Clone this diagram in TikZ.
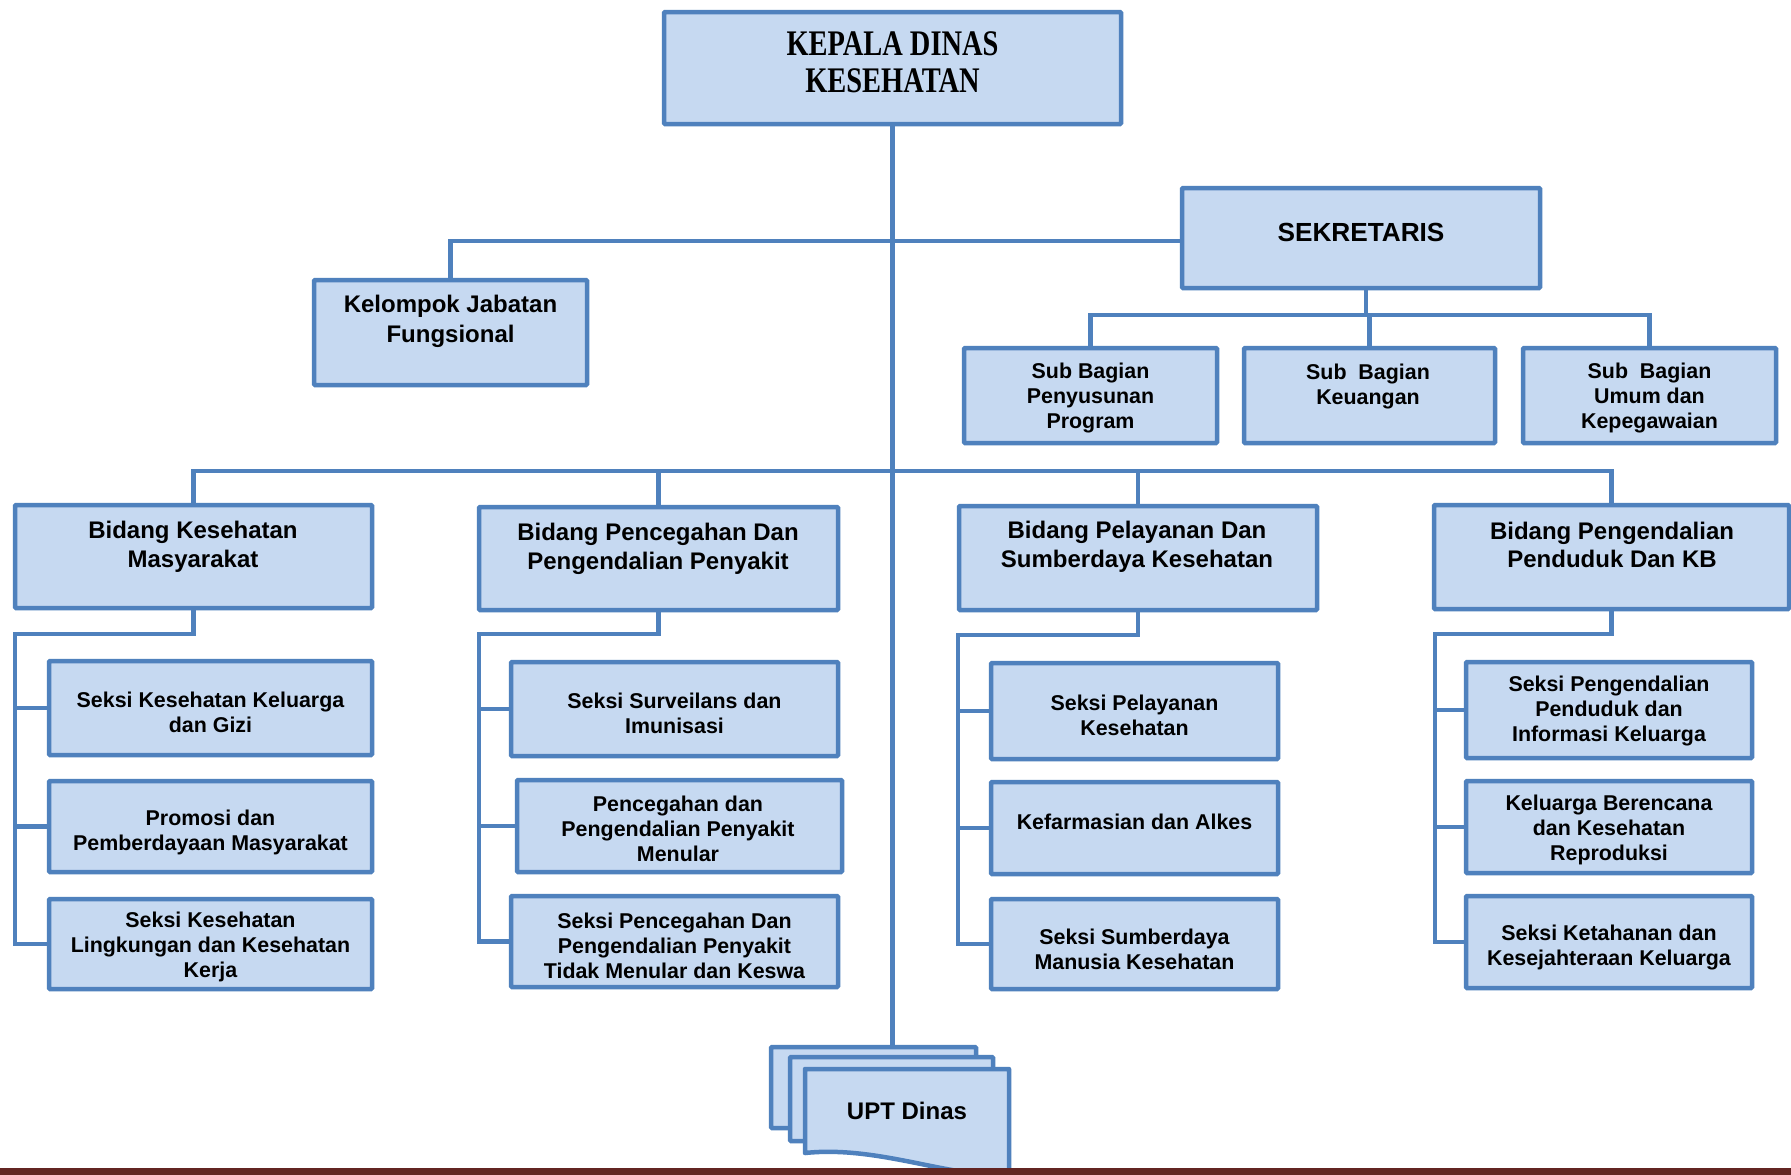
\documentclass[tikz,border=0pt]{standalone}
\usepackage{fontspec}
\usepackage{graphicx}
\setmainfont{Liberation Sans}
\newfontfamily\kepfont{Liberation Serif}
\definecolor{lineblue}{HTML}{4F81BD}
\definecolor{fillblue}{HTML}{C6D9F1}
\definecolor{barred}{HTML}{632523}
\begin{document}
\begin{tikzpicture}[x=1pt,y=-1pt,
  box/.style={draw=lineblue, fill=fillblue, line width=4.5pt, inner sep=0pt, rounded corners=1pt},
  conn/.style={draw=lineblue, line width=4.5pt},
  lbl/.style={align=center, font=\bfseries\fontsize{21.4}{25}\selectfont, inner sep=0pt},
  big/.style={align=center, font=\bfseries\fontsize{24}{28.5}\selectfont, inner sep=0pt}]
\useasboundingbox (0,0) rectangle (1791,1175);
\fill[white] (0,0) rectangle (1791,1175);

% boxes
\node[box, minimum width=457, minimum height=112] (kep) at (892.5,68) {};
\node[box, minimum width=358, minimum height=100] (sek) at (1361,238) {};
\node[box, minimum width=273, minimum height=105] (kel) at (450.5,332.5) {};
\node[box, minimum width=253, minimum height=95] (sb1) at (1090.5,395.5) {};
\node[box, minimum width=251, minimum height=95] (sb2) at (1369.5,395.5) {};
\node[box, minimum width=253, minimum height=95] (sb3) at (1649.5,395.5) {};
\node[box, minimum width=357, minimum height=103] (b1) at (193.5,556.5) {};
\node[box, minimum width=359, minimum height=103] (b2) at (658.5,558.5) {};
\node[box, minimum width=358, minimum height=104] (b3) at (1138,558) {};
\node[box, minimum width=355, minimum height=104] (b4) at (1611.5,557) {};
\node[box, minimum width=323, minimum height=94] (c1a) at (210.5,708) {};
\node[box, minimum width=323, minimum height=91] (c1b) at (210.5,826.5) {};
\node[box, minimum width=323, minimum height=90] (c1c) at (210.5,944) {};
\node[box, minimum width=327, minimum height=94] (c2a) at (674.5,709) {};
\node[box, minimum width=325, minimum height=92] (c2b) at (679.5,826) {};
\node[box, minimum width=327, minimum height=91] (c2c) at (674.5,941.5) {};
\node[box, minimum width=287, minimum height=96] (c3a) at (1134.5,711) {};
\node[box, minimum width=287, minimum height=92] (c3b) at (1134.5,828) {};
\node[box, minimum width=287, minimum height=90] (c3c) at (1134.5,944) {};
\node[box, minimum width=286, minimum height=96] (c4a) at (1609,710) {};
\node[box, minimum width=286, minimum height=92] (c4b) at (1609,827) {};
\node[box, minimum width=286, minimum height=92] (c4c) at (1609,942) {};

% texts
\node[inner sep=0pt, font=\kepfont\bfseries\fontsize{36}{37}\selectfont] (kept) at (892.5,66.5)
  {\scalebox{0.79}[1]{\begin{tabular}{@{}c@{}}KEPALA DINAS\\KESEHATAN\end{tabular}}};
\node[big, font=\bfseries\fontsize{26.2}{30}\selectfont] (sekt) at (1361,232) {SEKRETARIS};
\node[big, font=\bfseries\fontsize{24}{29.5}\selectfont] (kelt) at (450.5,321.5) {Kelompok Jabatan\\Fungsional};
\node[lbl] (sb1t) at (1090.5,398.5) {Sub Bagian\\Penyusunan\\Program};
\node[lbl] (sb2t) at (1368,386.5) {Sub\ \ Bagian\\Keuangan};
\node[lbl] (sb3t) at (1649.5,398.5) {Sub\ \ Bagian\\Umum dan\\Kepegawaian};
\node[big] (b1t) at (193,547) {Bidang Kesehatan\\Masyarakat};
\node[big] (b2t) at (658,549) {Bidang Pencegahan Dan\\Pengendalian Penyakit};
\node[big] (b3t) at (1137,547) {Bidang Pelayanan Dan\\Sumberdaya Kesehatan};
\node[big] (b4t) at (1612,545) {Bidang Pengendalian\\Penduduk Dan KB};
\node[lbl] (c1at) at (210.5,712.5) {Seksi Kesehatan Keluarga\\dan Gizi};
\node[lbl] (c1bt) at (210.5,832.5) {Promosi dan\\Pemberdayaan Masyarakat};
\node[lbl] (c1ct) at (210.5,946.6) {Seksi Kesehatan\\Lingkungan dan Kesehatan\\Kerja};
\node[lbl] (c2at) at (674.5,713) {Seksi Surveilans dan\\Imunisasi};
\node[lbl] (c2bt) at (678,829) {Pencegahan dan\\Pengendalian Penyakit\\Menular};
\node[lbl] (c2ct) at (674.5,945.5) {Seksi Pencegahan Dan\\Pengendalian Penyakit\\Tidak Menular dan Keswa};
\node[lbl] (c3at) at (1134.5,715.5) {Seksi Pelayanan\\Kesehatan};
\node[lbl] (c3bt) at (1134.5,822) {Kefarmasian dan Alkes};
\node[lbl] (c3ct) at (1134.5,949) {Seksi Sumberdaya\\Manusia Kesehatan};
\node[lbl] (c4at) at (1609,711) {Seksi Pengendalian\\Penduduk dan\\Informasi Keluarga};
\node[lbl] (c4bt) at (1609,830) {Keluarga Berencana\\dan Kesehatan\\Reproduksi};
\node[lbl] (c4ct) at (1609,948) {Seksi Ketahanan dan\\Kesejahteraan Keluarga};

% UPT sheets
\node[box, minimum width=205, minimum height=81] (upt1) at (873.5,1087.5) {};
\node[box, minimum width=203, minimum height=84] (upt2) at (891.5,1099) {};
\draw[draw=lineblue, fill=fillblue, line width=4.5pt, line join=round]
  (805,1069) -- (1009,1069) -- (1009,1174) .. controls (955,1180) and (880,1145) .. (805,1153) -- cycle;
\node[big] (uptt) at (907,1111) {UPT Dinas};

% connectors
\coordinate (ubar) at (892.5,241);
\coordinate (sbar) at (1366,315);
\coordinate (mbar) at (892.5,471);
\coordinate (l1) at (15,634);
\coordinate (l2) at (479,634);
\coordinate (l3) at (958,635);
\coordinate (l4) at (1435,634);

\draw[conn] (kep.south) -- (kep.south |- upt1.north);
\draw[conn] (kel.north) |- (ubar) -- (ubar -| sek.west);
\draw[conn] (sek.south -| sbar) -- (sbar);
\draw[conn] (sb1.north) -- (sb1.north |- sbar) -- (sb3.north |- sbar) -- (sb3.north);
\draw[conn] (sb2.north) -- (sb2.north |- sbar);
\draw[conn] (b1.north) -- (b1.north |- mbar) -- (b4.north |- mbar) -- (b4.north);
\draw[conn] (b2.north) -- (b2.north |- mbar);
\draw[conn] (b3.north) -- (b3.north |- mbar);

\draw[conn] (b1.south) |- (l1) |- (c1c.west);
\draw[conn] (c1a.west -| l1) -- (c1a.west);
\draw[conn] (c1b.west -| l1) -- (c1b.west);
\draw[conn] (b2.south) |- (l2) |- (c2c.west);
\draw[conn] (c2a.west -| l2) -- (c2a.west);
\draw[conn] (c2b.west -| l2) -- (c2b.west);
\draw[conn] (b3.south) |- (l3) |- (c3c.west);
\draw[conn] (c3a.west -| l3) -- (c3a.west);
\draw[conn] (c3b.west -| l3) -- (c3b.west);
\draw[conn] (b4.south) |- (l4) |- (c4c.west);
\draw[conn] (c4a.west -| l4) -- (c4a.west);
\draw[conn] (c4b.west -| l4) -- (c4b.west);

% bottom bar
\fill[barred] (0,1168) rectangle (1791,1175);
\end{tikzpicture}
\end{document}
